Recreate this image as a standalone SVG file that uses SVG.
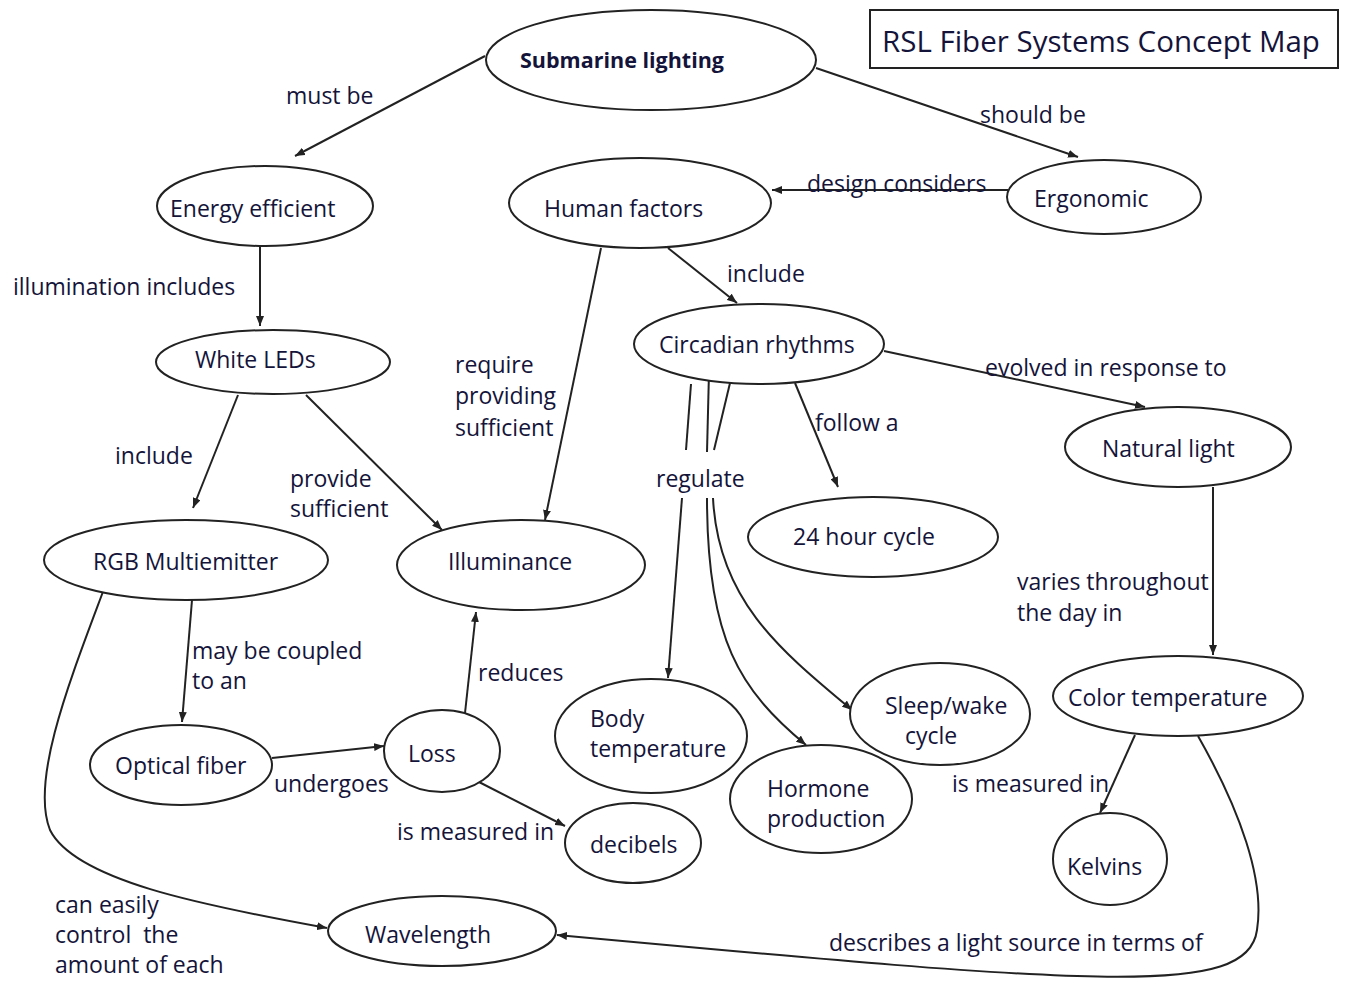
<svg xmlns="http://www.w3.org/2000/svg" width="1348" height="984" viewBox="0 0 1348 984">
<style>
.n ellipse{fill:#fff;stroke:#222;stroke-width:2}
text{font-family:"Open Sans",Lato,sans-serif;font-size:23px;fill:#14143a}
.b{font-weight:bold;font-size:21.5px}
#edges path,#edges line{fill:none;stroke:#222;stroke-width:2}
.a{marker-end:url(#arr)}
</style>
<defs>
<marker id="arr" viewBox="0 0 10 8" refX="10" refY="4" markerWidth="10" markerHeight="8" markerUnits="userSpaceOnUse" orient="auto">
<path d="M0,0 L10,4 L0,8 z" fill="#222"/>
</marker>
</defs>
<rect width="1348" height="984" fill="#fff"/>
<g id="title"><rect x="870" y="10" width="468" height="58" fill="#fff" stroke="#222" stroke-width="2"/><text x="882" y="52" style="font-size:29.5px">RSL Fiber Systems Concept Map</text></g>
<g id="edges">
<line class="a" x1="485" y1="56" x2="295" y2="156"/>
<line class="a" x1="816" y1="68" x2="1078" y2="157"/>
<line class="a" x1="1008" y1="190" x2="772" y2="190"/>
<line class="a" x1="260" y1="246" x2="260" y2="326"/>
<line class="a" x1="668" y1="248" x2="737" y2="303"/>
<line class="a" x1="601" y1="248" x2="545" y2="520"/>
<line class="a" x1="238" y1="395" x2="193" y2="508"/>
<line class="a" x1="306" y1="395" x2="442" y2="530"/>
<line class="a" x1="884" y1="351" x2="1145" y2="407"/>
<line class="a" x1="795" y1="383" x2="838" y2="487"/>
<line x1="691" y1="384" x2="686" y2="450"/>
<line x1="709" y1="372" x2="707" y2="452"/>
<line x1="730" y1="383" x2="714" y2="450"/>
<line class="a" x1="682" y1="498" x2="668" y2="678"/>
<path class="a" d="M707,498 C707,640 740,690 806,745"/>
<path class="a" d="M713,498 C718,600 780,650 852,710"/>
<line class="a" x1="1213" y1="487" x2="1213" y2="655"/>
<line class="a" x1="1135" y1="735" x2="1100" y2="813"/>
<path class="a" d="M1198,736 C1240,810 1265,880 1257,930 C1248,998 1100,985 557,935"/>
<line class="a" x1="192" y1="600" x2="182" y2="722"/>
<path class="a" d="M104,589 C70,680 30,780 50,830 C75,880 200,905 327,928"/>
<line class="a" x1="272" y1="758" x2="384" y2="746"/>
<line class="a" x1="465" y1="713" x2="476" y2="612"/>
<line class="a" x1="479" y1="782" x2="565" y2="826"/>
<text x="286" y="104">must be</text>
<text x="980" y="123">should be</text>
<text x="807" y="192">design considers</text>
<text x="13" y="295">illumination includes</text>
<text x="727" y="282">include</text>
<text x="455" y="373">require</text>
<text x="455" y="404">providing</text>
<text x="455" y="436">sufficient</text>
<text x="115" y="464">include</text>
<text x="290" y="487">provide</text>
<text x="290" y="517">sufficient</text>
<text x="985" y="376">evolved in response to</text>
<text x="815" y="431">follow a</text>
<text x="656" y="487">regulate</text>
<text x="1017" y="590">varies throughout</text>
<text x="1017" y="621">the day in</text>
<text x="952" y="792">is measured in</text>
<text x="829" y="951">describes a light source in terms of</text>
<text x="192" y="659">may be coupled</text>
<text x="192" y="689">to an</text>
<text x="55" y="913">can easily</text>
<text x="55" y="943" style="white-space:pre">control  the</text>
<text x="55" y="973">amount of each</text>
<text x="274" y="792">undergoes</text>
<text x="478" y="681">reduces</text>
<text x="397" y="840">is measured in</text>
</g>
<g id="submarine" class="n"><ellipse cx="651" cy="60" rx="165" ry="50"/><text class="b" x="520" y="68">Submarine lighting</text></g>
<g id="energy" class="n"><ellipse cx="265" cy="206" rx="108" ry="40"/><text x="170" y="217">Energy efficient</text></g>
<g id="human" class="n"><ellipse cx="640" cy="203" rx="131" ry="45"/><text x="544" y="217">Human factors</text></g>
<g id="ergonomic" class="n"><ellipse cx="1104" cy="197" rx="97" ry="37"/><text x="1034" y="207">Ergonomic</text></g>
<g id="whiteleds" class="n"><ellipse cx="273" cy="362" rx="117" ry="32"/><text x="195" y="368">White LEDs</text></g>
<g id="circadian" class="n"><ellipse cx="759" cy="344" rx="125" ry="40"/><text x="659" y="353">Circadian rhythms</text></g>
<g id="natural" class="n"><ellipse cx="1178" cy="447" rx="113" ry="40"/><text x="1102" y="457">Natural light</text></g>
<g id="cycle24" class="n"><ellipse cx="873" cy="537" rx="125" ry="40"/><text x="793" y="545">24 hour cycle</text></g>
<g id="rgb" class="n"><ellipse cx="186" cy="560" rx="142" ry="40"/><text x="93" y="570">RGB Multiemitter</text></g>
<g id="illuminance" class="n"><ellipse cx="521" cy="565" rx="124" ry="45"/><text x="448" y="570">Illuminance</text></g>
<g id="colortemp" class="n"><ellipse cx="1178" cy="696" rx="125" ry="40"/><text x="1068" y="706">Color temperature</text></g>
<g id="sleep" class="n"><ellipse cx="940" cy="714" rx="90" ry="51"/><text x="885" y="714">Sleep/wake</text><text x="905" y="744">cycle</text></g>
<g id="body" class="n"><ellipse cx="651" cy="736" rx="96" ry="57"/><text x="590" y="727">Body</text><text x="590" y="757">temperature</text></g>
<g id="hormone" class="n"><ellipse cx="821" cy="799" rx="91" ry="54"/><text x="767" y="797">Hormone</text><text x="767" y="827">production</text></g>
<g id="optical" class="n"><ellipse cx="181" cy="765" rx="91" ry="40"/><text x="115" y="774">Optical fiber</text></g>
<g id="loss" class="n"><ellipse cx="442" cy="751" rx="58" ry="41"/><text x="408" y="762">Loss</text></g>
<g id="decibels" class="n"><ellipse cx="633" cy="843" rx="68" ry="40"/><text x="590" y="853">decibels</text></g>
<g id="kelvins" class="n"><ellipse cx="1110" cy="859" rx="57" ry="46"/><text x="1067" y="875">Kelvins</text></g>
<g id="wavelength" class="n"><ellipse cx="442" cy="931" rx="114" ry="35"/><text x="365" y="943">Wavelength</text></g>
</svg>
